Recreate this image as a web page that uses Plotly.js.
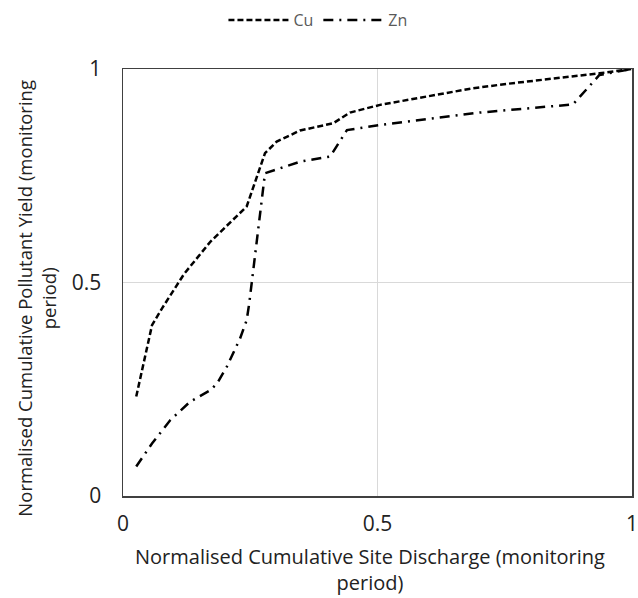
<!DOCTYPE html>
<html>
<head>
<meta charset="utf-8">
<script src="https://cdn.plot.ly/plotly-3.0.1.min.js"></script>
<style>
html,body{margin:0;padding:0;background:#fff;}
#chart{width:638px;height:598px;}
</style>
</head>
<body>
<div id="chart"></div>
<script>
// Normalised cumulative site discharge (x) vs normalised cumulative pollutant yield (y)
var cuX = [0.026, 0.057, 0.077, 0.120, 0.172, 0.243, 0.279, 0.302, 0.348, 0.413, 0.446, 0.505, 0.688, 0.753, 0.936, 1.0];
var cuY = [0.233, 0.400, 0.440, 0.520, 0.596, 0.678, 0.803, 0.830, 0.856, 0.873, 0.898, 0.916, 0.955, 0.965, 0.990, 1.0];
var znX = [0.026, 0.057, 0.093, 0.132, 0.172, 0.185, 0.204, 0.230, 0.243, 0.248, 0.279, 0.348, 0.407, 0.440, 0.505, 0.701, 0.884, 0.936, 1.0];
var znY = [0.069, 0.123, 0.178, 0.221, 0.248, 0.264, 0.303, 0.369, 0.412, 0.451, 0.756, 0.783, 0.795, 0.857, 0.869, 0.898, 0.917, 0.986, 1.0];
var seriesNames = ["Cu", "Zn"];
var xTicks = [0, 0.5, 1];
var yTicks = [0, 0.5, 1];
var xTitle = "Normalised Cumulative Site Discharge (monitoring<br>period)";
var yTitle = "Normalised Cumulative Pollutant Yield (monitoring<br>period)";

var FONT = "Open Sans, sans-serif";
var traces = [
  {x: cuX, y: cuY, name: seriesNames[0], type: "scatter", mode: "lines",
   line: {color: "#000000", width: 2.5, dash: "6px,3px"}},
  {x: znX, y: znY, name: seriesNames[1], type: "scatter", mode: "lines",
   line: {color: "#000000", width: 2.5, dash: "10px,6px,2px,6px"}}
];
var layout = {
  width: 638, height: 598,
  margin: {l: 122.5, r: 5.5, t: 69, b: 102, autoexpand: false},
  paper_bgcolor: "#ffffff", plot_bgcolor: "#ffffff",
  font: {family: FONT, color: "#404040"},
  showlegend: true,
  legend: {orientation: "h", x: 0.383, xanchor: "center", y: 1.1148, yanchor: "middle",
           font: {family: FONT, size: 16, color: "#595959"}, itemwidth: 60, tracegroupgap: 0},
  xaxis: {range: [0, 1], tickvals: xTicks, ticktext: xTicks.map(String),
          showgrid: true, gridcolor: "#d9d9d9", gridwidth: 1, zeroline: false,
          showline: true, linecolor: "#404040", linewidth: 1.5, mirror: true,
          ticks: "", tickfont: {family: FONT, size: 21, color: "#222"}, ticklabelstandoff: 8,
          ticklabeloverflow: "allow"},
  yaxis: {range: [0, 1], tickvals: yTicks, ticktext: yTicks.map(String),
          showgrid: true, gridcolor: "#d9d9d9", gridwidth: 1, zeroline: false,
          showline: true, linecolor: "#404040", linewidth: 1.5, mirror: true,
          ticks: "", tickfont: {family: FONT, size: 21, color: "#222"}, ticklabelstandoff: 16,
          ticklabeloverflow: "allow"},
  annotations: [
    {text: xTitle, xref: "paper", yref: "paper", x: 0.485, y: -0.171,
     xanchor: "center", yanchor: "middle", showarrow: false,
     font: {family: FONT, size: 20, color: "#222"}},
    {text: yTitle, xref: "paper", yref: "paper", x: -0.1716, y: 0.4637,
     xanchor: "center", yanchor: "middle", showarrow: false, textangle: -90,
     font: {family: FONT, size: 18.5, color: "#222"}}
  ]
};
Plotly.newPlot("chart", traces, layout, {displayModeBar: false, staticPlot: true});
</script>
</body>
</html>
